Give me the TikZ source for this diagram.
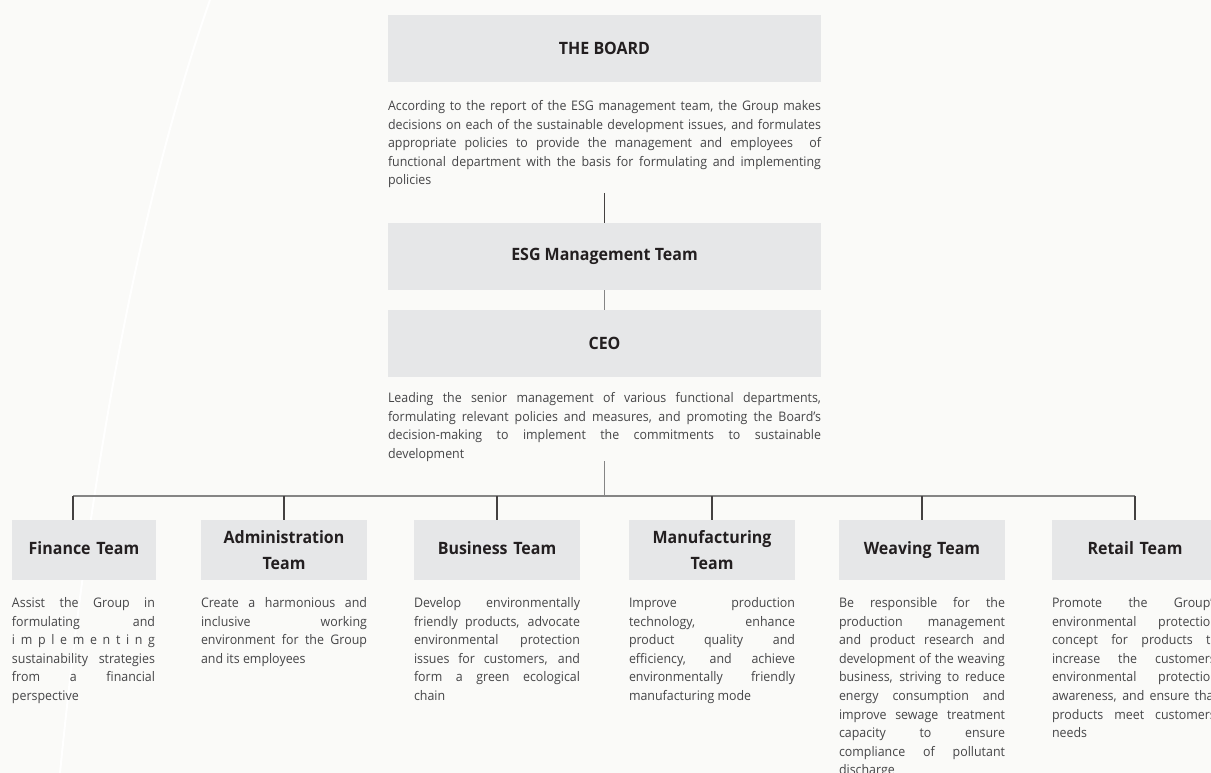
\documentclass[tikz,border=0pt]{standalone}
\usepackage{fontspec}
\setmainfont{Open Sans}[FakeStretch=0.94]
\usetikzlibrary{positioning,calc}
\definecolor{boxgray}{HTML}{E6E7E8}
\definecolor{pagebg}{HTML}{FAFAF8}
\definecolor{inkdark}{HTML}{231F20}
\definecolor{inkgray}{HTML}{454547}
\definecolor{linegray}{HTML}{858585}
\newcommand{\spreadword}[1]{\makebox[\linewidth][s]{#1}}

\begin{document}
\begin{tikzpicture}[
    x=1pt, y=-1pt,
    head/.style={rectangle, fill=boxgray, minimum width=433pt, minimum height=67pt, inner sep=0pt, font=\fontsize{17}{20}\selectfont\bfseries, text=inkdark},
    team/.style={rectangle, fill=boxgray, minimum width=166pt, minimum height=60pt, inner sep=0pt, text width=150pt, align=center, font=\fontsize{17}{26}\selectfont\bfseries, text=inkdark},
    oneline/.style={text height=12pt, text depth=3pt},
    desc/.style={inner sep=0pt, align=justify, font=\fontsize{13.2}{18.6}\selectfont, text=inkgray},
    main/.style={draw=linegray, line width=1.3pt},
    drop/.style={draw=inkdark!85, line width=1.1pt}
]
    % page and background streak
    \path[clip] (0,0) rectangle (1211,773);
    \fill[pagebg] (0,0) rectangle (1211,773);
    \draw[white, line width=2pt] (210,0) .. controls (150,170) and (95,420) .. (60,773);

    % top of the chain
    \node[head] (board) at (604.5,48.5) {THE BOARD};
    \node[desc, text width=433pt, below=18pt of board.south west, anchor=north west] (boardtxt) {According to the report of the ESG management team, the Group makes\linebreak decisions on each of the sustainable development issues, and formulates\linebreak appropriate policies to provide the management and employees~ of\linebreak functional department with the basis for formulating and implementing\linebreak policies};
    \node[head] (esg) at (604.5,256.5) {ESG Management Team};
    \node[head] (ceo) at (604.5,343.5) {CEO};
    \node[desc, text width=433pt, below=15pt of ceo.south west, anchor=north west] (ceotxt) {Leading the senior management of various functional departments,\linebreak formulating relevant policies and measures, and promoting the Board’s\linebreak decision-making to implement the commitments to sustainable\linebreak development};

    % teams
    \node[team, oneline, minimum width=144pt, text width=130pt] (finance) at (84,550) {Finance Team};
    \node[team] (admin) at (284,550) {Administration\\Team};
    \node[team, oneline] (business) at (497,550) {Business Team};
    \node[team] (manuf) at (712,550) {Manufacturing\\Team};
    \node[team, oneline] (weaving) at (922,550) {Weaving Team};
    \node[team, oneline] (retail) at (1135,550) {Retail Team};

    \node[desc, text width=143pt, below=17pt of finance.south west, anchor=north west] (financetxt) {Assist the Group in\linebreak formulating and\linebreak \spreadword{i\hfill m\hfill p\hfill l\hfill e\hfill m\hfill e\hfill n\hfill t\hfill i\hfill n\hfill g}\linebreak sustainability strategies\linebreak from a financial\linebreak perspective};
    \node[desc, text width=166pt, below=17pt of admin.south west, anchor=north west] (admintxt) {Create a harmonious and\linebreak inclusive working\linebreak environment for the Group\linebreak and its employees};
    \node[desc, text width=166pt, below=17pt of business.south west, anchor=north west] (businesstxt) {Develop environmentally\linebreak friendly products, advocate\linebreak environmental protection\linebreak issues for customers, and\linebreak form a green ecological\linebreak chain};
    \node[desc, text width=166pt, below=17pt of manuf.south west, anchor=north west] (manuftxt) {Improve production\linebreak technology, enhance\linebreak product quality and\linebreak efficiency, and achieve\linebreak environmentally friendly\linebreak manufacturing mode};
    \node[desc, text width=166pt, below=17pt of weaving.south west, anchor=north west] (weavingtxt) {Be responsible for the\linebreak production management\linebreak and product research and\linebreak development of the weaving\linebreak business, striving to reduce\linebreak energy consumption and\linebreak improve sewage treatment\linebreak capacity to ensure\linebreak compliance of pollutant\linebreak discharge};
    \node[desc, text width=166pt, below=17pt of retail.south west, anchor=north west] (retailtxt) {Promote the Group’s\linebreak environmental protection\linebreak concept for products to\linebreak increase the customers’\linebreak environmental protection\linebreak awareness, and ensure that\linebreak products meet customers’\linebreak needs};

    % connectors
    \coordinate (boardend) at (604.5,193);
    \coordinate (ceoend) at (604.5,461);
    \coordinate (hub) at (604.5,496);
    \coordinate (finT) at (73,496);
    \coordinate (retT) at (1135,496);
    \draw[drop] (boardend) -- (esg);
    \draw[main] (esg) -- (ceo);
    \draw[main] (ceoend) -- (hub);
    \draw[main] (finT) -- (retT);
    \draw[drop] (finT) -- (finT |- finance.north);
    \foreach \t in {admin,business,manuf,weaving,retail}
        \draw[drop] (\t.north |- hub) -- (\t.north);
\end{tikzpicture}
\end{document}
